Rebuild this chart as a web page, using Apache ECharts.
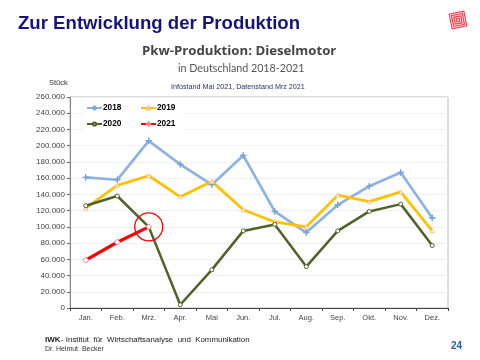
<!DOCTYPE html>
<html><head><meta charset="utf-8">
<style>html,body{margin:0;padding:0;background:#fff}#c{width:480px;height:360px}</style>
<script src="https://cdn.jsdelivr.net/npm/echarts@6/dist/echarts.min.js"></script>
</head><body><div id="c"></div>
<script>
const months = ['Jan.','Feb.','Mrz.','Apr.','Mai','Jun.','Jul.','Aug.','Sep.','Okt.','Nov.','Dez.'];
const y2018 = [161000,158000,206000,177000,152000,188000,119000,93000,127000,150000,167000,111000];
const y2019 = [123000,151000,163000,137000,156000,121000,106000,100000,139000,131000,143000,95000];
const y2020 = [126000,138000,100000,4000,47000,95000,103000,51000,95000,119000,128000,77000];
const y2021 = [59000,81000,100000];
const fmt = v => String(v).replace(/\B(?=(\d{3})+$)/g,'.');
const chart = echarts.init(document.getElementById('c'),null,{renderer:'canvas'});
const sans = '"Liberation Sans",Arial,sans-serif';
const CROSS='path://M-1 -0.08H-0.08V-1H0.08V-0.08H1V0.08H0.08V1H-0.08V0.08H-1Z';
function mk(name,data,color,w,symbol,size,fill,bc,extra){
  return Object.assign({name,type:'line',data,symbol,symbolSize:size,showAllSymbol:true,
    lineStyle:{color,width:w},itemStyle:{color:fill,borderColor:bc,borderWidth:1},
    emphasis:{disabled:true},animation:false,z:3},extra||{});
}
function leg(name,left,top){
  return {data:[name],left,top,itemWidth:15,itemHeight:4,itemGap:0,padding:0,selectedMode:false,
    textStyle:{fontFamily:sans,fontSize:8.3,fontWeight:'bold',color:'#000',padding:[0,0,0,-4]}};
}
const logo=[];
for(let r=8,i=0;r>0;r-=1,i++){
  logo.push({type:'rect',shape:{x:-r,y:-r,width:2*r,height:2*r},style:{fill:i%2?'#ffd6d6':'#ee3344'}});
}
chart.setOption({
  animation:false,
  backgroundColor:'#fff',
  grid:{left:70,right:32,top:97,bottom:52,show:true,borderColor:'#bdbdbd',borderWidth:1,backgroundColor:'#fff'},
  legend:[leg('2018',86,104),leg('2019',140,104),leg('2020',86,120),leg('2021',140,120)],
  xAxis:{type:'category',data:months,boundaryGap:true,
    axisLine:{lineStyle:{color:'#444',width:1}},axisTick:{show:true,length:3,inside:false,lineStyle:{color:'#444'}},
    axisLabel:{fontFamily:sans,fontSize:7.5,color:'#444',margin:6},splitLine:{show:false}},
  yAxis:{type:'value',min:0,max:260000,interval:20000,
    axisLine:{show:true,lineStyle:{color:'#888'}},axisTick:{show:true,length:3,lineStyle:{color:'#666'}},
    axisLabel:{fontFamily:sans,fontSize:8,color:'#444',margin:5,formatter:fmt},
    splitLine:{show:true,lineStyle:{color:'#f0f0f0',width:1}}},
  series:[
    mk('2018',y2018,'#8db3e2',2.7,CROSS,6,'#7aa3d8','#7aa3d8'),
    mk('2019',y2019,'#ffc000',2.8,'triangle',4,'#fff','#fac090'),
    mk('2020',y2020,'#4f6228',2.5,'circle',4,'#fff','#4f6228'),
    mk('2021',y2021,'#ff0000',3.2,'diamond',6,'#fff','#ff8080',{z:4,
      markPoint:{silent:true,animation:false,symbol:'circle',symbolSize:28,
        itemStyle:{color:'rgba(0,0,0,0)',borderColor:'#ff0000',borderWidth:1.3},
        label:{show:false},data:[{coord:['Mrz.',100000]}]}})
  ],
  graphic:[
    {type:'rect',z:1,shape:{x:84,y:100,width:100,height:31},style:{fill:'#fff'}},
    {type:'text',left:18,top:14,style:{text:'Zur Entwicklung der Produktion',fontFamily:sans,fontSize:18.6,fontWeight:'bold',fill:'#14147a'}},
    {type:'text',left:142,top:45,style:{text:'Pkw-Produktion: Dieselmotor',fontFamily:'"Open Sans",sans-serif',fontSize:13.2,fontWeight:'bold',fill:'#444'}},
    {type:'text',left:178,top:63,style:{text:'in Deutschland 2018-2021',fontFamily:'Lato,sans-serif',fontSize:10.7,fill:'#555'}},
    {type:'text',left:171,top:84,style:{text:'Infostand Mai 2021, Datenstand Mrz 2021',fontFamily:sans,fontSize:7.2,fill:'#1f2f5f'}},
    {type:'text',left:49,top:79,style:{text:'Stück',fontFamily:sans,fontSize:7.5,fill:'#333'}},
    {type:'text',left:45,top:336,style:{text:'IWK',fontFamily:sans,fontSize:8,fontWeight:'bold',fill:'#222'}},
    {type:'text',left:61,top:336,style:{text:'- Institut  für  Wirtschaftsanalyse  und  Kommunikation',fontFamily:sans,fontSize:7.9,fill:'#222'}},
    {type:'text',left:45,top:346,style:{text:'Dr. Helmut  Becker',fontFamily:sans,fontSize:7,fill:'#333'}},
    {type:'text',left:451,top:341,style:{text:'24',fontFamily:sans,fontSize:10,fontWeight:'bold',fill:'#1f5fa8'}},
    {type:'group',x:458,y:20,rotation:0.2,children:logo}
  ]
});
</script></body></html>
